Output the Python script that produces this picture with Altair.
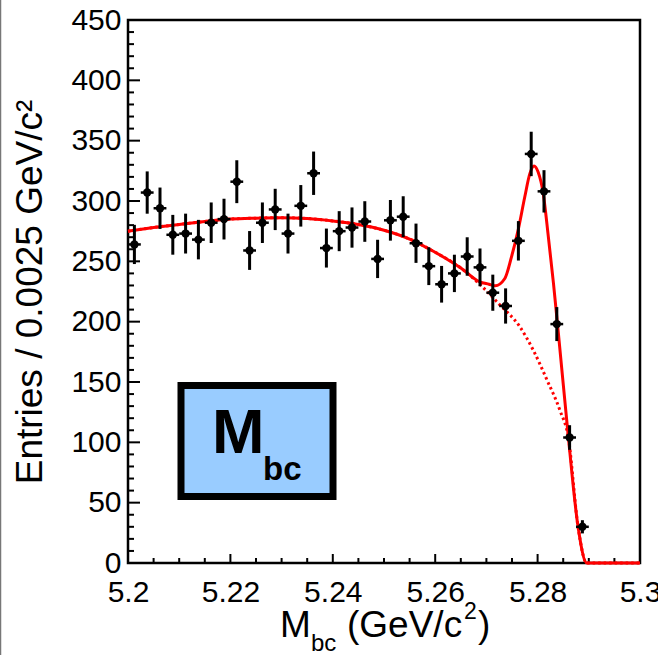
import altair as alt
import pandas as pd
import numpy as np

# ---- data ----
bin_centers = [5.20125, 5.20375, 5.20625, 5.20875, 5.21125, 5.21375, 5.21625, 5.21875,
               5.22125, 5.22375, 5.22625, 5.22875, 5.23125, 5.23375, 5.23625, 5.23875,
               5.24125, 5.24375, 5.24625, 5.24875, 5.25125, 5.25375, 5.25625, 5.25875,
               5.26125, 5.26375, 5.26625, 5.26875, 5.27125, 5.27375, 5.27625, 5.27875,
               5.28125, 5.28375, 5.28625, 5.28875]
counts = [264, 307, 294, 272, 273, 268, 282, 285,
          316, 259, 282, 293, 273, 296, 323, 261,
          275, 278, 283, 252, 284, 287, 265, 246,
          231, 240, 254, 245, 224, 213, 267, 339,
          308, 198, 104, 30]
bin_half_width = 0.00125

# full fit (signal + background), solid line
fit_m = [5.2, 5.205, 5.21, 5.215, 5.22, 5.225, 5.23, 5.235, 5.24, 5.245, 5.25, 5.255,
         5.26, 5.265, 5.2687, 5.2705, 5.2717, 5.2736, 5.2749, 5.2762, 5.2775, 5.2785,
         5.2793, 5.2801, 5.2811, 5.2821, 5.2831, 5.2840, 5.2860, 5.2879, 5.2896, 5.3]
fit_total = [275, 278, 280.6, 283, 285, 285.8, 286.2, 285.5, 283.5, 280.5, 275.8, 268.5,
             257.5, 244.5, 233, 231, 229.7, 235.8, 253.7, 275.9, 303.5, 322.9,
             329, 324, 306.3, 270.3, 231.7, 193, 104.5, 30, 0, 0]

# background only, dotted line
bkg_m = [5.2, 5.205, 5.21, 5.215, 5.22, 5.225, 5.23, 5.235, 5.24, 5.245, 5.25, 5.255,
         5.26, 5.265, 5.2687, 5.2726, 5.2765, 5.2792, 5.2818, 5.2844, 5.2860, 5.2879,
         5.2896, 5.3]
bkg = [275, 278, 280.6, 283, 285, 285.8, 286.2, 285.5, 283.5, 280.5, 275.8, 268.5,
       257.5, 244.5, 231, 214, 196, 176, 152, 126, 104, 30, 0, 0]

x_tick_labels = [5.2, 5.22, 5.24, 5.26, 5.28, 5.3]
x_minor_ticks = [5.205, 5.21, 5.215, 5.225, 5.23, 5.235, 5.245, 5.25, 5.255,
                 5.265, 5.27, 5.275, 5.285, 5.29, 5.295]
y_tick_labels = [0, 50, 100, 150, 200, 250, 300, 350, 400, 450]
y_minor_ticks = [v for v in range(10, 450, 10) if v % 50 != 0]

# ---- tables ----
pts = pd.DataFrame({"m": bin_centers, "n": counts})
pts["err"] = np.sqrt(pts["n"])
pts["lo"] = pts["n"] - pts["err"]
pts["hi"] = pts["n"] + pts["err"]
pts["m_lo"] = pts["m"] - bin_half_width
pts["m_hi"] = pts["m"] + bin_half_width

fit_df = pd.DataFrame({"m": fit_m, "n": fit_total})
bkg_df = pd.DataFrame({"m": bkg_m, "n": bkg})

FONT = "Liberation Sans"
W, H = 512, 543

xscale = alt.Scale(domain=[5.2, 5.3], nice=False, zero=False)
yscale = alt.Scale(domain=[0, 450], nice=False, zero=True)
xaxis = alt.Axis(values=x_tick_labels, format=".2~f", ticks=False, domain=False, grid=False,
                 labelFontSize=30, labelFont=FONT, labelColor="black", labelPadding=14,
                 labelOverlap=False, labelFlush=False, labelBound=False, title=None)
yaxis = alt.Axis(values=y_tick_labels, ticks=False, domain=False, grid=False,
                 labelFontSize=30, labelFont=FONT, labelColor="black", labelPadding=7,
                 labelOverlap=False, labelFlush=False, labelBound=False, title=None)

X = alt.X("m:Q", scale=xscale, axis=xaxis)
Y = alt.Y("n:Q", scale=yscale, axis=yaxis)

bkg_line = alt.Chart(bkg_df).mark_line(color="#ff0000", strokeWidth=3, strokeDash=[2.5, 3],
                                       interpolate="monotone", clip=False).encode(x=X, y=Y)
fit_line = alt.Chart(fit_df).mark_line(color="#ff0000", strokeWidth=3,
                                       interpolate="monotone", clip=False).encode(x=X, y=Y)

vbars = alt.Chart(pts).mark_rule(color="black", strokeWidth=3).encode(
    x=X, y=alt.Y("lo:Q", scale=yscale, axis=yaxis), y2="hi:Q")
hbars = alt.Chart(pts).mark_rule(color="black", strokeWidth=2.5).encode(
    x=alt.X("m_lo:Q", scale=xscale, axis=xaxis), x2="m_hi:Q", y=Y)
dots = alt.Chart(pts).mark_point(filled=True, shape="circle", color="black", size=70,
                                 opacity=1).encode(x=X, y=Y)

# inward ticks
xmaj = alt.Chart(pd.DataFrame({"m": x_tick_labels[:-1]})).mark_rule(color="black", strokeWidth=2).encode(
    x=X, y=alt.value(H), y2=alt.value(H - 9))
xmin = alt.Chart(pd.DataFrame({"m": x_minor_ticks})).mark_rule(color="black", strokeWidth=2).encode(
    x=X, y=alt.value(H), y2=alt.value(H - 5))
ymaj = alt.Chart(pd.DataFrame({"n": y_tick_labels})).mark_rule(color="black", strokeWidth=2).encode(
    y=Y, x=alt.value(0), x2=alt.value(12))
ymin = alt.Chart(pd.DataFrame({"n": y_minor_ticks})).mark_rule(color="black", strokeWidth=2).encode(
    y=Y, x=alt.value(0), x2=alt.value(6))

# label box
box = alt.Chart(pd.DataFrame({"a": [0]})).mark_rect(fill="#99ccff", stroke="black", strokeWidth=7).encode(
    x=alt.value(53), x2=alt.value(205), y=alt.value(365.5), y2=alt.value(476.5))
box_M = alt.Chart(pd.DataFrame({"t": ["M"]})).mark_text(
    font=FONT, fontWeight="bold", fontSize=63, align="left", baseline="alphabetic", color="black").encode(
    x=alt.value(84), y=alt.value(433), text="t:N")
box_bc = alt.Chart(pd.DataFrame({"t": ["bc"]})).mark_text(
    font=FONT, fontWeight="bold", fontSize=33, align="left", baseline="alphabetic", color="black").encode(
    x=alt.value(135), y=alt.value(460), text="t:N")

# axis titles
def txt(s, x, y, size, angle=0, align="left", baseline="alphabetic"):
    kw = dict(font=FONT, fontSize=size, align=align, baseline=baseline, color="black")
    if angle:
        kw["angle"] = angle
    return alt.Chart(pd.DataFrame({"t": [s]})).mark_text(**kw).encode(
        x=alt.value(x), y=alt.value(y), text="t:N")

ytitle = txt("Entries / 0.0025 GeV/c\u00b2", -97, 272, 37, angle=270, align="center", baseline="middle")
xt_M = txt("M", 152, 617, 37)
xt_bc = txt("bc", 183, 631, 24)
xt_paren = txt("(GeV/c", 219, 617, 37)
xt_2 = txt("2", 336, 599, 23)
xt_close = txt(")", 350, 617, 37)

border = alt.Chart(pd.DataFrame({"a": [0]})).mark_rule(color="#777777", strokeWidth=1.5).encode(
    x=alt.value(-127.5), y=alt.value(-20), y2=alt.value(640))

chart = alt.layer(
    xmin, xmaj, ymin, ymaj, bkg_line, fit_line, vbars, hbars, dots,
    box, box_M, box_bc, ytitle, xt_M, xt_bc, xt_paren, xt_2, xt_close, border
).properties(
    width=W, height=H,
    autosize=alt.AutoSizeParams(type="none"),
    padding={"left": 128, "top": 20, "right": 18, "bottom": 92},
    background="white",
).configure_view(stroke="black", strokeWidth=2.5)

chart.save("out.html", embed_options={"renderer": "svg", "actions": False})
